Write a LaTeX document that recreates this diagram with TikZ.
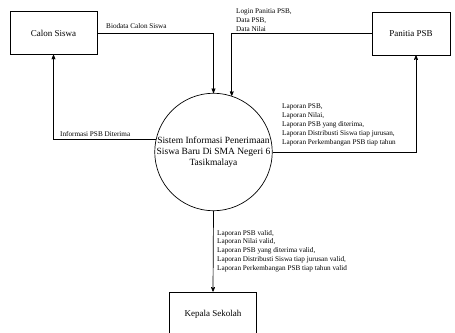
\documentclass[tikz,border=0pt]{standalone}
\usepackage{fontspec}
\setmainfont{Liberation Serif}
\usetikzlibrary{arrows,positioning}
\tikzset{
    >=stealth',
    entitas/.style={
        rectangle,
        draw=black, line width=0.7pt,
        minimum width=87pt,
        minimum height=43pt,
        font=\fontsize{9}{10}\selectfont
    },
    proses/.style={
        circle,
        draw=black, line width=0.7pt,
        minimum size=116pt,
        inner sep=0pt,
        align=center,
        font=\fontsize{9.5}{11}\selectfont
    },
    aliran/.style={draw, line width=0.7pt, ->},
    ket/.style={
        inner sep=0pt,
        align=left,
        font=\fontsize{7.2}{8.8}\selectfont
    }
}
\begin{document}
\begin{tikzpicture}[x=1pt,y=-1pt]
    \useasboundingbox (0,0) rectangle (455,332);

    % entitas luar dan proses
    \node[entitas] (calon) at (53.5,33) {Calon Siswa};
    \node[entitas, minimum width=78pt] (panitia) at (411,33.5) {Panitia PSB};
    \node[proses] (sistem) at (213.5,152) {Sistem Informasi Penerimaan\\Siswa Baru Di SMA Negeri 6\\Tasikmalaya};
    \node[entitas, minimum height=44pt] (kepsek) at (213,314) {Kepala Sekolah};

    % aliran data
    \draw[aliran] (calon.east) -| (sistem.north);
    \draw[aliran] (panitia.west) -| (sistem.72);
    \draw[aliran] (sistem.168) -| (calon.south);
    \draw[aliran] (sistem.east) -| ([xshift=5pt]panitia.south);
    \draw[aliran] (sistem.south) -- (kepsek.north);

    % keterangan
    \node[ket, anchor=base west] (kbiodata) at (106,28) {Biodata Calon Siswa};
    \node[ket, anchor=north west] (klogin) at (236,9) {Login Panitia PSB,\\Data PSB,\\Data Nilai};
    \node[ket, anchor=base west] (kinfo) at (60,136) {Informasi PSB Diterima};
    \node[ket, anchor=north west] (klaporan) at (282,104) {Laporan PSB,\\Laporan Nilai,\\Laporan PSB yang diterima,\\Laporan Distribusti Siswa tiap jurusan,\\Laporan Perkembangan PSB tiap tahun};
    \node[ket, anchor=north west] (kvalid) at (217,230) {Laporan PSB valid,\\Laporan Nilai valid,\\Laporan PSB yang diterima valid,\\Laporan Distribusti Siswa tiap jurusan valid,\\Laporan Perkembangan PSB tiap tahun valid};
\end{tikzpicture}
\end{document}
